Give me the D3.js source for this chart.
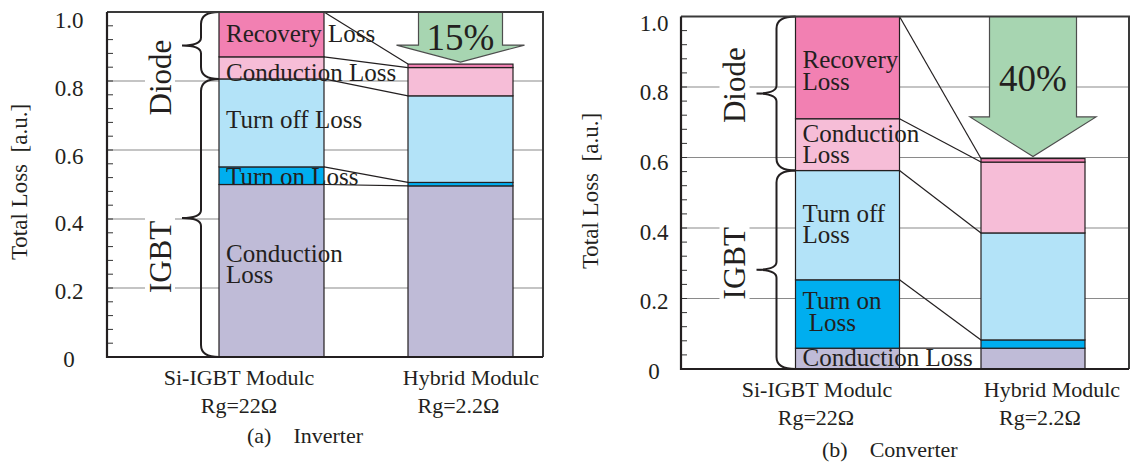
<!DOCTYPE html>
<html><head><meta charset="utf-8">
<script src="https://cdn.jsdelivr.net/npm/d3@7"></script>
<style>
body{margin:0;background:#fff}
text{font-family:"Liberation Serif","Times New Roman",serif;fill:#231f20;white-space:pre}
</style>
</head><body><svg id="c" width="1132" height="464"></svg>
<script>
// ---------- data ----------
const categories = [["Si-IGBT Modulc","Rg=22Ω"],["Hybrid Modulc","Rg=2.2Ω"]];
const segmentNames = ["IGBT Conduction","Turn on","Turn off","Diode Conduction","Recovery"];
const segmentColors = ["#bfbbd7","#00aeef","#b3e3f8","#f6bdd7","#f280b2"];
const inverterSi     = [0.500, 0.051, 0.255, 0.064, 0.130];
const inverterHybrid = [0.496, 0.010, 0.251, 0.082, 0.010];
const converterSi     = [0.059, 0.194, 0.310, 0.147, 0.290];
const converterHybrid = [0.059, 0.0235, 0.3035, 0.201, 0.010];
const inverterLabels  = [["Conduction","Loss"],["Turn on Loss"],["Turn off Loss"],["Conduction Loss"],["Recovery Loss"]];
const converterLabels = [["Conduction Loss"],["Turn on"," Loss"],["Turn off","Loss"],["Conduction","Loss"],["Recovery","Loss"]];
const reductions = ["15%","40%"];
const groupNames = ["Diode","IGBT"];
const captions = ["(a)    Inverter","(b)    Converter"];
const yTickValues = [0,0.2,0.4,0.6,0.8,1.0];
const yTickLabels = ["0","0.2","0.4","0.6","0.8","1.0"];
const yTitle = "Total Loss  [a.u.]";

// ---------- layout ----------
const charts = [
  {si:inverterSi, hy:inverterHybrid, labels:inverterLabels, pct:reductions[0], caption:captions[0],
   frame:{x0:107,x1:543,yb:357,yt:12}, labelRange:[359,20], tickX:69, titleX:27, titleY:182,
   barC:[271.5,460.5], barW:105, segLabelV:[[0.276,0.215],[0.50],[0.664],[0.80],[0.913]],
   catX:[[239,239],[471,458.5]], catY:[385,413], groupV:[0.81,0.29], groupX:160,
   braceM:18, braceT:37, shaftHalf:42, headHalf:64, shaftBottomV:0.904, pctV:0.89,
   captionPos:[247,443]},
  {si:converterSi, hy:converterHybrid, labels:converterLabels, pct:reductions[1], caption:captions[1],
   frame:{x0:681,x1:1129,yb:369,yt:16.5}, labelRange:[371,22.5], tickX:654, titleX:598, titleY:191,
   barC:[847.5,1033], barW:104, segLabelV:[[0.0085],[0.170,0.109],[0.417,0.357],[0.644,0.584],[0.854,0.792]],
   catX:[[817,816],[1052,1040]], catY:[397,425], groupV:[0.805,0.30], groupX:734.5,
   braceM:19, braceT:39, shaftHalf:43.5, headHalf:63, shaftBottomV:0.715, pctV:0.789,
   captionPos:[822,457]}
];

const svg = d3.select("#c");

function cum(arr){ let s=0; return arr.map(v=>{const y0=s; s+=v; return [y0,s];}); }
function brace(xe,xm,xt,yTop,yBot,r,r2){
  const ym=(yTop+yBot)/2;
  return `M${xe},${yTop} Q${xm},${yTop} ${xm},${yTop+r} L${xm},${ym-r2} Q${xm},${ym} ${xt},${ym} Q${xm},${ym} ${xm},${ym+r2} L${xm},${yBot-r} Q${xm},${yBot} ${xe},${yBot}`;
}

charts.forEach(c=>{
  const f=c.frame;
  const y=d3.scaleLinear().domain([0,1]).range([f.yb,f.yt]);
  const yl=d3.scaleLinear().domain([0,1]).range(c.labelRange);
  const x=d3.scalePoint().domain([0,1]).range(c.barC);
  const g=svg.append("g");

  // gridlines
  g.selectAll(".grid").data(yTickValues.filter(v=>v>0&&v<1)).enter().append("line")
    .attr("x1",f.x0).attr("x2",f.x1).attr("y1",d=>y(d)).attr("y2",d=>y(d))
    .attr("stroke","#8a8a8a").attr("stroke-width",1.2);

  // minor ticks
  g.selectAll(".mt").data(d3.range(0,26).map(i=>i*0.04)).enter().append("line")
    .attr("x1",f.x0).attr("x2",f.x0+6).attr("y1",d=>y(d)).attr("y2",d=>y(d))
    .attr("stroke","#333").attr("stroke-width",1);

  // group labels (Diode / IGBT) with white background
  groupNames.forEach((nm,i)=>{
    const gg=g.append("g").attr("transform",`translate(${c.groupX},${y(c.groupV[i])}) rotate(-90)`);
    const t=gg.append("text").attr("text-anchor","middle").attr("dy","0.35em")
      .style("font-size","31px").text(nm);
    const w=t.node().getComputedTextLength();
    gg.insert("rect","text").attr("x",-w/2-3).attr("y",-15).attr("width",w+6).attr("height",30).attr("fill","#fff");
  });

  // bars
  const stacks=[cum(c.si),cum(c.hy)];
  stacks.forEach((st,bi)=>{
    g.selectAll(null).data(st).enter().append("rect")
      .attr("x",x(bi)-c.barW/2).attr("width",c.barW)
      .attr("y",d=>y(d[1])).attr("height",d=>y(d[0])-y(d[1]))
      .attr("fill",(d,i)=>segmentColors[i]).attr("stroke","#231f20").attr("stroke-width",1.2);
  });

  // connecting lines
  const xr=x(0)+c.barW/2, xl=x(1)-c.barW/2;
  g.selectAll(null).data(d3.range(stacks[0].length)).enter().append("line")
    .attr("x1",xr).attr("x2",xl)
    .attr("y1",i=>y(stacks[0][i][1])).attr("y2",i=>y(stacks[1][i][1]))
    .attr("stroke","#231f20").attr("stroke-width",1.2);

  // braces
  const bl=x(0)-c.barW/2;
  const diodeBot=stacks[0][2][1];
  [[1,diodeBot],[diodeBot,0]].forEach(([a,b])=>{
    g.append("path").attr("d",brace(bl,bl-c.braceM,bl-c.braceT,y(a),y(b),12,8))
      .attr("fill","none").attr("stroke","#231f20").attr("stroke-width",2);
  });

  // segment labels on Si bar
  c.labels.forEach((lines,i)=>{
    const t=g.append("text").attr("x",bl+7).style("font-size","25px");
    lines.forEach((ln,j)=>{
      t.append("tspan").attr("x",bl+7).attr("y",y(c.segLabelV[i][j])).text(ln);
    });
  });

  // arrow
  const cx=x(1), topTotal=stacks[1][4][1];
  const ys=f.yt, yb=y(c.shaftBottomV), yt=y(topTotal)-2;
  const pts=[[cx-c.shaftHalf,ys],[cx+c.shaftHalf,ys],[cx+c.shaftHalf,yb],[cx+c.headHalf,yb],[cx,yt],[cx-c.headHalf,yb],[cx-c.shaftHalf,yb]];
  g.append("path").attr("d",d3.line()(pts)+"Z").attr("fill","#a7d5b1").attr("stroke","#4d4d4d").attr("stroke-width",1.2);
  g.append("text").attr("x",cx).attr("y",y(c.pctV)).attr("text-anchor","middle").style("font-size","37px").text(c.pct);

  // frame
  g.append("path").attr("d",`M${f.x0},${f.yt} H${f.x1} V${f.yb}`).attr("fill","none").attr("stroke","#3a3a3a").attr("stroke-width",2);
  g.append("path").attr("d",`M${f.x0},${f.yt} V${f.yb} H${f.x1}`).attr("fill","none").attr("stroke","#231f20").attr("stroke-width",2.2);

  // tick labels
  g.selectAll(null).data(yTickValues).enter().append("text")
    .attr("x",c.tickX).attr("y",d=>yl(d)).attr("dy","0.35em").attr("text-anchor","middle")
    .style("font-size","23px").text((d,i)=>yTickLabels[i]);

  // y title
  g.append("text").attr("transform",`translate(${c.titleX},${c.titleY}) rotate(-90)`)
    .attr("text-anchor","middle").style("font-size","23px").text(yTitle);

  // category labels
  categories.forEach((lines,ci)=>{
    lines.forEach((ln,j)=>{
      g.append("text").attr("x",c.catX[ci][j]).attr("y",c.catY[j]).attr("text-anchor","middle")
        .style("font-size","22px").text(ln);
    });
  });

  // caption
  g.append("text").attr("x",c.captionPos[0]).attr("y",c.captionPos[1]).style("font-size","22px").text(c.caption);
});
</script>
</body></html>
